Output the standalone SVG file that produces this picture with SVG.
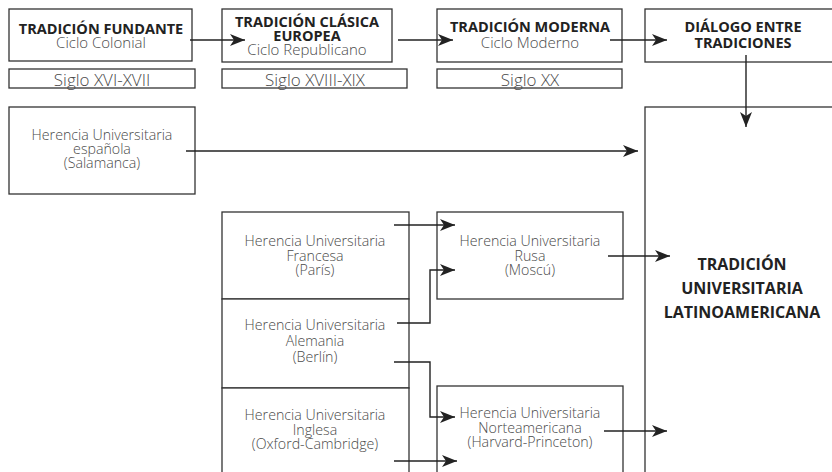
<svg xmlns="http://www.w3.org/2000/svg" width="832" height="472" viewBox="0 0 832 472">
<style>
.box{fill:#fff;stroke:#333;stroke-width:1.3}
.t{font-family:"Open Sans","Noto Sans","DejaVu Sans",sans-serif;text-anchor:middle}
.b{font-size:14.5px;font-weight:700;fill:#222}
.r{font-size:15px;font-weight:300;fill:#4a4a4a}
.g{font-size:17px;font-weight:300;fill:#4a4a4a}
.s{font-size:14.2px;font-weight:300;fill:#4a4a4a}
.L{font-size:16px;font-weight:700;fill:#222}
.c{fill:none;stroke:#222;stroke-width:1.4}
</style>
<defs>
<marker id="ah" viewBox="0 -6 16 12" refX="15" refY="0" markerWidth="16" markerHeight="12" markerUnits="userSpaceOnUse" orient="auto">
<path d="M0,-6 L15,0 L0,6 L4,0 Z" fill="#222"/>
</marker>
</defs>
<rect width="832" height="472" fill="#fff"/>
<g id="fundante">
<rect class="box" x="9" y="9" width="183" height="52"/>
<text class="t b" x="101" y="34">TRADICIÓN FUNDANTE</text>
<text class="t r" x="101" y="48">Ciclo Colonial</text>
</g>
<g id="siglo1">
<rect class="box" x="9" y="69" width="186" height="19"/>
<text class="t g" x="102" y="86">Siglo XVI-XVII</text>
</g>
<g id="clasica">
<rect class="box" x="222" y="9" width="170" height="53"/>
<text class="t b" x="307" y="27">TRADICIÓN CLÁSICA</text>
<text class="t b" x="307" y="40.5">EUROPEA</text>
<text class="t r" x="307" y="55">Ciclo Republicano</text>
</g>
<g id="siglo2">
<rect class="box" x="222" y="69" width="185" height="19"/>
<text class="t g" x="315" y="86">Siglo XVIII-XIX</text>
</g>
<g id="moderna">
<rect class="box" x="437" y="9" width="185" height="53"/>
<text class="t b" x="530" y="32">TRADICIÓN MODERNA</text>
<text class="t r" x="530" y="48">Ciclo Moderno</text>
</g>
<g id="siglo3">
<rect class="box" x="437" y="69" width="185" height="19"/>
<text class="t g" x="530" y="86">Siglo XX</text>
</g>
<g id="dialogo">
<rect class="box" x="645" y="9" width="200" height="53"/>
<text class="t b" x="743" y="32">DIÁLOGO ENTRE</text>
<text class="t b" x="743" y="48">TRADICIONES</text>
</g>
<g id="salamanca">
<rect class="box" x="9" y="107" width="186" height="87"/>
<text class="t s" x="102" y="140">Herencia Universitaria</text>
<text class="t s" x="102" y="154">española</text>
<text class="t s" x="102" y="168">(Salamanca)</text>
</g>
<g id="francesa">
<rect class="box" x="222" y="212" width="187" height="87"/>
<text class="t s" x="315" y="246">Herencia Universitaria</text>
<text class="t s" x="315" y="261">Francesa</text>
<text class="t s" x="315" y="275">(París)</text>
</g>
<g id="alemania">
<rect class="box" x="222" y="299" width="187" height="89"/>
<text class="t s" x="315" y="330">Herencia Universitaria</text>
<text class="t s" x="315" y="346">Alemania</text>
<text class="t s" x="315" y="362">(Berlín)</text>
</g>
<g id="inglesa">
<rect class="box" x="222" y="388" width="187" height="95"/>
<text class="t s" x="315" y="420">Herencia Universitaria</text>
<text class="t s" x="315" y="435">Inglesa</text>
<text class="t s" x="315" y="449">(Oxford-Cambridge)</text>
</g>
<g id="rusa">
<rect class="box" x="437" y="212" width="186" height="87"/>
<text class="t s" x="530" y="246">Herencia Universitaria</text>
<text class="t s" x="530" y="261">Rusa</text>
<text class="t s" x="530" y="275">(Moscú)</text>
</g>
<g id="norteamericana">
<rect class="box" x="437" y="386" width="186" height="97"/>
<text class="t s" x="530" y="418">Herencia Universitaria</text>
<text class="t s" x="530" y="433">Norteamericana</text>
<text class="t s" x="530" y="447">(Harvard-Princeton)</text>
</g>
<g id="latinoamericana">
<rect class="box" x="645" y="107" width="200" height="376"/>
<text class="t L" x="742" y="270">TRADICIÓN</text>
<text class="t L" x="742" y="294">UNIVERSITARIA</text>
<text class="t L" x="742" y="318">LATINOAMERICANA</text>
</g>
<g id="connectors">
<path class="c" d="M190,40 H245" marker-end="url(#ah)"/>
<path class="c" d="M398,40 H453" marker-end="url(#ah)"/>
<path class="c" d="M610,40 H667" marker-end="url(#ah)"/>
<path class="c" d="M746,55 V127" marker-end="url(#ah)"/>
<path class="c" d="M186,151 H638" marker-end="url(#ah)"/>
<path class="c" d="M394,225 H455" marker-end="url(#ah)"/>
<path class="c" d="M397,323 H430 V270 H455" marker-end="url(#ah)"/>
<path class="c" d="M394,362 H430 V417 H455" marker-end="url(#ah)"/>
<path class="c" d="M394,461 H457" marker-end="url(#ah)"/>
<path class="c" d="M608,256 H670" marker-end="url(#ah)"/>
<path class="c" d="M604,431 H667" marker-end="url(#ah)"/>
</g>
</svg>
